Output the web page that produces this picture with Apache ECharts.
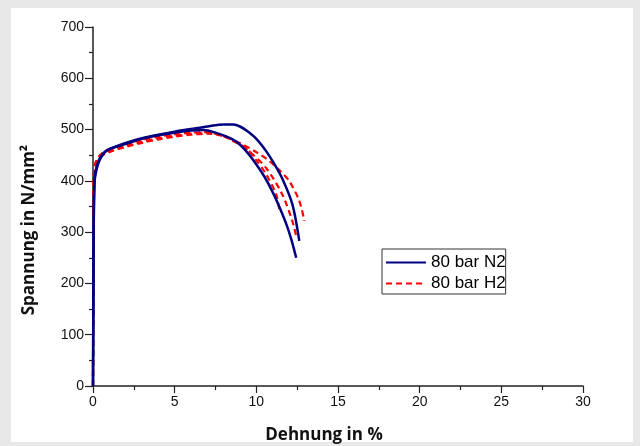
<!DOCTYPE html>
<html>
<head>
<meta charset="utf-8">
<script src="https://cdn.jsdelivr.net/npm/echarts@6/dist/echarts.min.js"></script>
<style>
  html, body { margin: 0; padding: 0; background: #e8e8e8; }
  #panel { position: absolute; left: 11px; top: 8px; width: 622px; height: 434px; background: #ffffff; }
  #chart { position: absolute; left: 0; top: 0; width: 640px; height: 446px; }
</style>
</head>
<body>
<div id="panel"></div>
<div id="chart"></div>
<script>
// ---- data (Dehnung in %, Spannung in N/mm²) ----
const xTicks = [0, 5, 10, 15, 20, 25, 30];
const yTicks = [0, 100, 200, 300, 400, 500, 600, 700];
const seriesNames = ['80 bar N2', '80 bar H2'];

const n2CurveA = [[0,0],[0.02,150],[0.05,330],[0.1,400],[0.2,420],[0.4,440],[0.7,455],[1,462],[1.5,468],[2,474],[3,483],[4,490],[5,496],[6,501],[7,506],[8,510],[8.6,510],[9,506],[9.4,498],[10,482],[10.6,458],[11.1,433],[11.58,405],[12.2,355],[12.63,283]];
const n2CurveB = [[0,0],[0.02,150],[0.05,340],[0.1,405],[0.2,425],[0.4,443],[0.7,456],[1,462],[2,472],[3,482],[4,489],[5,494],[6,498],[6.8,499],[7.5,494],[8.2,486],[8.75,477],[9.4,457],[9.98,433],[10.5,408],[10.97,380],[11.4,350],[11.83,316],[12.15,285],[12.44,250]];
const h2Curve1 = [[0,0],[0.02,200],[0.05,400],[0.1,428],[0.3,440],[0.6,450],[1,456],[2,466],[3,474],[4,481],[5,486],[6,490],[7,492],[8,487],[9.1,472],[10,456],[10.78,439],[11.5,418],[12.01,400],[12.63,361],[12.94,322]];
const h2Curve2 = [[0,0],[0.02,200],[0.05,390],[0.1,425],[0.3,442],[0.6,452],[1,458],[2,468],[3,476],[4,483],[5,488],[6,492],[7,494],[8,488],[8.8,475],[9.55,458],[10.6,425],[11.58,374],[12.2,322],[12.44,292]];
const h2Curve3 = [[0,0],[0.02,200],[0.05,395],[0.1,430],[0.3,445],[0.6,455],[1,462],[2,472],[3,480],[4,486],[5,491],[6,494],[7,495],[8,487],[8.6,477],[9.36,464],[10,440],[10.6,413],[11.21,374],[11.4,345]];

const chart = echarts.init(document.getElementById('chart'));

const blueStyle = { color: '#000080', width: 2.5, type: 'solid' };
const redStyle = { color: '#ff0000', width: 2.2, type: [6, 4] };

function mk(name, data, style, z) {
  return {
    type: 'line', name: name, data: data, showSymbol: false, symbol: 'none',
    smooth: 0.3, lineStyle: style, itemStyle: { color: style.color }, z: z,
    animation: false
  };
}

const axisFont = { fontFamily: 'Arial, "Liberation Sans", sans-serif', fontSize: 14, color: '#111' };

chart.setOption({
  backgroundColor: 'transparent',
  animation: false,
  grid: { left: 93, right: 57, top: 27, bottom: 60, containLabel: false },
  xAxis: {
    type: 'value', min: xTicks[0], max: xTicks[xTicks.length - 1], interval: 5,
    axisLine: { show: true, onZero: false, lineStyle: { color: '#222', width: 1.5 } },
    axisTick: { show: true, inside: false, length: 7, lineStyle: { color: '#222', width: 1.2 } },
    minorTick: { show: true, splitNumber: 2, length: 4, lineStyle: { color: '#222', width: 1.2 } },
    splitLine: { show: false },
    axisLabel: Object.assign({ margin: 9 }, axisFont)
  },
  yAxis: {
    type: 'value', min: yTicks[0], max: yTicks[yTicks.length - 1], interval: 100,
    axisLine: { show: true, onZero: false, lineStyle: { color: '#222', width: 1.5 } },
    axisTick: { show: true, inside: false, length: 8, lineStyle: { color: '#222', width: 1.2 } },
    minorTick: { show: true, splitNumber: 2, length: 4, lineStyle: { color: '#222', width: 1.2 } },
    splitLine: { show: false },
    axisLabel: Object.assign({ margin: 9 }, axisFont)
  },
  legend: {
    data: seriesNames,
    orient: 'vertical',
    left: 382, top: 249,
    padding: [5, 0, 2, 3],
    itemWidth: 40, itemHeight: 14, itemGap: 4,
    itemStyle: { opacity: 0 },
    borderColor: '#333', borderWidth: 1, backgroundColor: '#fff',
    textStyle: { fontFamily: 'Arial, "Liberation Sans", sans-serif', fontSize: 17, color: '#000' }
  },
  graphic: [
    {
      type: 'text',
      style: { text: 'Dehnung in %', font: 'bold 17px "Open Sans", sans-serif', fill: '#111', x: 324, y: 435, align: 'center', verticalAlign: 'middle' }
    },
    {
      type: 'text', x: 29, y: 230, rotation: Math.PI / 2,
      style: { text: 'Spannung in N/mm²', font: 'bold 17px "Open Sans", sans-serif', fill: '#111', align: 'center', verticalAlign: 'middle' }
    }
  ],
  series: [
    mk(seriesNames[1], h2Curve1, redStyle, 3),
    mk(seriesNames[1], h2Curve2, redStyle, 3),
    mk(seriesNames[1], h2Curve3, redStyle, 3),
    mk(seriesNames[0], n2CurveA, blueStyle, 4),
    mk(seriesNames[0], n2CurveB, blueStyle, 4)
  ]
});
</script>
</body>
</html>
